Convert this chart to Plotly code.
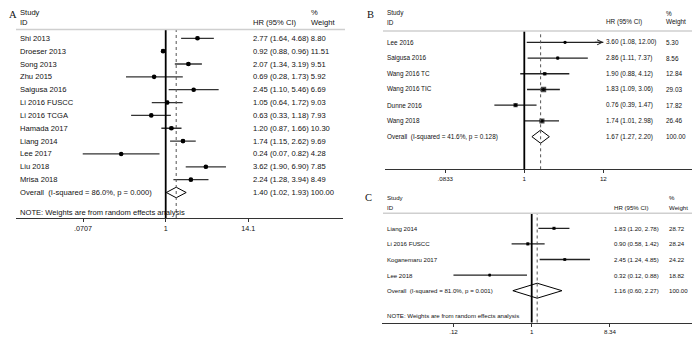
import numpy as np
import plotly.graph_objects as go

# page body has an 8px margin, so the figure is drawn 8px in from the top-left corner
OFF = 8
W, H = 700 - OFF, 340 - OFF

# ---------------- Panel A data ----------------
a_study = ["Shi 2013", "Droeser 2013", "Song 2013", "Zhu 2015", "Saigusa 2016",
           "Li 2016 FUSCC", "Li 2016 TCGA", "Hamada 2017", "Liang 2014",
           "Lee 2017", "Liu 2018", "Mrisa 2018"]
a_hr = [2.77, 0.92, 2.07, 0.69, 2.45, 1.05, 0.63, 1.20, 1.74, 0.24, 3.62, 2.24]
a_lo = [1.64, 0.88, 1.34, 0.28, 1.10, 0.64, 0.33, 0.87, 1.15, 0.07, 1.90, 1.28]
a_hi = [4.68, 0.96, 3.19, 1.73, 5.46, 1.72, 1.18, 1.66, 2.62, 0.82, 6.90, 3.94]
a_w = [8.80, 11.51, 9.51, 5.92, 6.69, 9.03, 7.93, 10.30, 9.69, 4.28, 7.85, 8.49]
a_overall = [1.40, 1.02, 1.93]
a_het = "Overall  (I-squared = 86.0%, p = 0.000)"
a_ticks = [0.0707, 1, 14.1]
a_tick_labels = [".0707", "1", "14.1"]

# ---------------- Panel B data ----------------
b_study = ["Lee 2016", "Saigusa 2016", "Wang 2016 TC", "Wang 2016 TIC",
           "Dunne 2016", "Wang 2018"]
b_hr = [3.60, 2.86, 1.90, 1.83, 0.76, 1.74]
b_lo = [1.08, 1.11, 0.88, 1.09, 0.39, 1.01]
b_hi = [12.00, 7.37, 4.12, 3.06, 1.47, 2.98]
b_w = [5.30, 8.56, 12.84, 29.03, 17.82, 26.46]
b_overall = [1.67, 1.27, 2.20]
b_het = "Overall  (I-squared = 41.6%, p = 0.128)"
b_ticks = [0.0833, 1, 12]
b_tick_labels = [".0833", "1", "12"]

# ---------------- Panel C data ----------------
c_study = ["Liang 2014", "Li 2016 FUSCC", "Koganemaru 2017", "Lee 2018"]
c_hr = [1.83, 0.90, 2.45, 0.32]
c_lo = [1.20, 0.58, 1.24, 0.12]
c_hi = [2.78, 1.42, 4.85, 0.88]
c_w = [28.72, 28.24, 24.22, 18.82]
c_overall = [1.16, 0.60, 2.27]
c_het = "Overall  (I-squared = 81.0%, p = 0.001)"
c_ticks = [0.12, 1, 8.34]
c_tick_labels = [".12", "1", "8.34"]

note_text = "NOTE: Weights are from random effects analysis"

FONT = "Liberation Sans, Arial, Helvetica, sans-serif"
SERIF = "Liberation Serif, Times New Roman, serif"
TXT = "#111111"


def px_x(p):
    return (p - OFF) / W


def px_y(p):
    return 1 - (p - OFF) / H


panels = [
    dict(letter="A", study=a_study, hr=a_hr, lo=a_lo, hi=a_hi, w=a_w, ov=a_overall,
         het=a_het, ticks=a_ticks, ticklab=a_tick_labels, note=True, combine=True,
         xdom=(16, 343), one=165.7, scale=31.2, ydom=(29.5, 218), row0=38.3, step=12.85,
         fs=7.6, tfs=7.2, lab_x=19, hr_x=252, w_x=310, hdr=(12.8, 22.5),
         hline=(16, 345, 29.5), let_pos=("left", None), box_k=1.15, dot=4.6, dia_h=0.41,
         note_y=212, ci_col="#333333"),
    dict(letter="B", study=b_study, hr=b_hr, lo=b_lo, hi=b_hi, w=b_w, ov=b_overall,
         het=b_het, ticks=b_ticks, ticklab=b_tick_labels, note=False, combine=False,
         xdom=(385, 697), one=524.3, scale=31.8, ydom=(31, 169.3), row0=42.3, step=15.73,
         fs=6.4, tfs=6.2, lab_x=386.5, hr_x=605, w_x=665, hdr=(13.3, 22.5),
         hline=(383, 697, 31), let_pos=(370, None), box_k=1.0, dot=3.2, dia_h=0.42,
         note_y=None, ci_col="#222222"),
    dict(letter="C", study=c_study, hr=c_hr, lo=c_lo, hi=c_hi, w=c_w, ov=c_overall,
         het=c_het, ticks=c_ticks, ticklab=c_tick_labels, note=True, combine=False,
         xdom=(382, 697), one=531.7, scale=36.9, ydom=(213.3, 322.5), row0=228.3, step=15.6,
         fs=6.1, tfs=6.2, lab_x=386, hr_x=613, w_x=668, hdr=(197.5, 207),
         hline=(383, 697, 213.3), let_pos=(368.5, 197.5), box_k=0.6, dot=2.6, dia_h=0.48,
         note_y=315, ci_col="#222222"),
]

fig = go.Figure()
annotations = []
shapes = []
layout_axes = {}

for k, p in enumerate(panels, start=1):
    xn = "x" if k == 1 else f"x{k}"
    yn = "y" if k == 1 else f"y{k}"
    xa = "xaxis" if k == 1 else f"xaxis{k}"
    ya = "yaxis" if k == 1 else f"yaxis{k}"
    n = len(p["study"])
    rows = list(range(n))
    ov_row = n

    lhr = np.log(p["hr"])
    llo = np.log(p["lo"])
    lhi = np.log(p["hi"])

    # CI lines
    cx, cy = [], []
    for i in rows:
        cx += [llo[i], lhi[i], None]
        cy += [i, i, None]
    fig.add_trace(go.Scatter(x=cx, y=cy, mode="lines", xaxis=xn, yaxis=yn,
                             line=dict(color=p["ci_col"], width=1.3),
                             hoverinfo="skip", showlegend=False))
    # weight boxes
    fig.add_trace(go.Scatter(x=lhr, y=rows, mode="markers", xaxis=xn, yaxis=yn,
                             marker=dict(symbol="square", color="black",
                                         size=[p["box_k"] * np.sqrt(v) for v in p["w"]],
                                         line=dict(width=0)),
                             hoverinfo="skip", showlegend=False))
    # point estimates
    fig.add_trace(go.Scatter(x=lhr, y=rows, mode="markers", xaxis=xn, yaxis=yn,
                             marker=dict(symbol="circle", color="black", size=p["dot"],
                                         line=dict(width=0)),
                             hoverinfo="skip", showlegend=False))
    # overall diamond
    o_hr, o_lo, o_hi = np.log(p["ov"])
    h = p["dia_h"]
    fig.add_trace(go.Scatter(x=[o_lo, o_hr, o_hi, o_hr, o_lo],
                             y=[ov_row, ov_row - h, ov_row, ov_row + h, ov_row],
                             mode="lines", fill="toself", fillcolor="white",
                             xaxis=xn, yaxis=yn, line=dict(color="black", width=1),
                             hoverinfo="skip", showlegend=False))

    # arrows for CIs reaching the axis limit
    tmax = np.log(max(p["ticks"]))
    for i in rows:
        if lhi[i] >= tmax - 1e-9:
            annotations.append(dict(x=lhi[i], y=i, xref=xn, yref=yn, text="",
                                    showarrow=True, ax=-10, ay=0, arrowhead=5,
                                    arrowsize=1.0, arrowwidth=1, arrowcolor="#222",
                                    standoff=0))

    # axes
    x0 = (p["xdom"][0] - p["one"]) / p["scale"]
    x1 = (p["xdom"][1] - p["one"]) / p["scale"]
    ytop = (p["ydom"][0] - p["row0"]) / p["step"]
    ybot = (p["ydom"][1] - p["row0"]) / p["step"]
    layout_axes[xa] = dict(domain=[px_x(p["xdom"][0]), px_x(p["xdom"][1])],
                           range=[x0, x1], anchor=yn, showgrid=False, zeroline=False,
                           showline=True, linecolor="#333", linewidth=1,
                           ticks="outside", ticklen=3, tickwidth=1, tickcolor="#333",
                           tickvals=list(np.log(p["ticks"])), ticktext=p["ticklab"],
                           tickfont=dict(family=FONT, size=p["tfs"], color=TXT),
                           fixedrange=True)
    layout_axes[ya] = dict(domain=[px_y(p["ydom"][1]), px_y(p["ydom"][0])],
                           range=[ybot, ytop], anchor=xn, visible=False,
                           showgrid=False, zeroline=False, fixedrange=True)

    # reference lines
    shapes.append(dict(type="line", xref=xn, yref=f"{yn} domain", x0=0, x1=0, y0=0, y1=1,
                       line=dict(color="black", width=1.8)))
    shapes.append(dict(type="line", xref=xn, yref=f"{yn} domain", x0=o_hr, x1=o_hr,
                       y0=0, y1=1, line=dict(color="#555", width=1, dash="dot")))
    # header separator
    hx0, hx1, hy = p["hline"]
    shapes.append(dict(type="line", xref="paper", yref="paper", x0=px_x(hx0), x1=px_x(hx1),
                       y0=px_y(hy), y1=px_y(hy), line=dict(color="#cfcfcf", width=1.5)))

    fnt = dict(family=FONT, size=p["fs"], color=TXT)

    def txt(x, y, s, yref="paper"):
        annotations.append(dict(x=px_x(x), y=y, xref="paper", yref=yref, text=s,
                                showarrow=False, xanchor="left", yanchor="middle",
                                font=fnt, borderpad=0))

    # headers
    txt(p["lab_x"], px_y(p["hdr"][0]), "Study")
    txt(p["lab_x"], px_y(p["hdr"][1]), "ID")
    txt(p["hr_x"], px_y(p["hdr"][1]), "HR (95% CI)")
    txt(p["w_x"], px_y(p["hdr"][0]), "%")
    txt(p["w_x"], px_y(p["hdr"][1]), "Weight")

    # rows
    for i in rows:
        txt(p["lab_x"], i, p["study"][i], yref=yn)
        ci = f"{p['hr'][i]:.2f} ({p['lo'][i]:.2f}, {p['hi'][i]:.2f})"
        if p["combine"]:
            txt(p["hr_x"], i, f"{ci} {p['w'][i]:.2f}", yref=yn)
        else:
            txt(p["hr_x"], i, ci, yref=yn)
            txt(p["w_x"], i, f"{p['w'][i]:.2f}", yref=yn)
    ov_ci = f"{p['ov'][0]:.2f} ({p['ov'][1]:.2f}, {p['ov'][2]:.2f})"
    txt(p["lab_x"], ov_row, p["het"], yref=yn)
    if p["combine"]:
        txt(p["hr_x"], ov_row, f"{ov_ci} 100.00", yref=yn)
    else:
        txt(p["hr_x"], ov_row, ov_ci, yref=yn)
        txt(p["w_x"], ov_row, "100.00", yref=yn)
    if p["note"]:
        txt(p["lab_x"], px_y(p["note_y"]), note_text)

    # panel letter (letters at the figure edges are anchored to those edges)
    lx, ly = p["let_pos"]
    lfont = dict(family=SERIF, size=10.5, color="#111")
    if lx == "left":
        ax_x, ax_anchor = 0, "left"
    else:
        ax_x, ax_anchor = px_x(lx), "center"
    if ly is None:
        ay_y, ay_anchor = 1, "top"
    else:
        ay_y, ay_anchor = px_y(ly), "middle"
    annotations.append(dict(x=ax_x, y=ay_y, xref="paper", yref="paper",
                            text=p["letter"], showarrow=False,
                            xanchor=ax_anchor, yanchor=ay_anchor, borderpad=0,
                            font=lfont))

fig.update_layout(width=W, height=H, autosize=False,
                  margin=dict(l=0, r=0, t=0, b=0),
                  paper_bgcolor="white", plot_bgcolor="white",
                  showlegend=False, annotations=annotations, shapes=shapes,
                  **layout_axes)

fig.write_html("out.html", config={"displayModeBar": False})
